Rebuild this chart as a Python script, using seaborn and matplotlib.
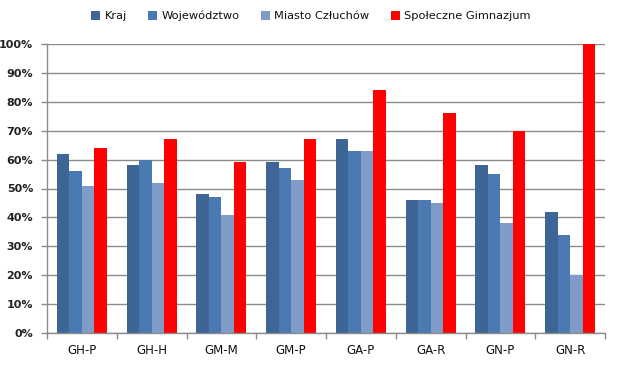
import matplotlib
matplotlib.use("Agg")
import matplotlib.pyplot as plt
import seaborn as sns
import pandas as pd
import numpy as np
from matplotlib.ticker import FuncFormatter, MultipleLocator, FixedLocator

categories = ["GH-P", "GH-H", "GM-M", "GM-P", "GA-P", "GA-R", "GN-P", "GN-R"]
series_names = ["Kraj", "Województwo", "Miasto Człuchów", "Społeczne Gimnazjum"]
kraj = [62, 58, 48, 59, 67, 46, 58, 42]
wojewodztwo = [56, 60, 47, 57, 63, 46, 55, 34]
miasto = [51, 52, 41, 53, 63, 45, 38, 20]
spoleczne = [64, 67, 59, 67, 84, 76, 70, 100]
colors = ["#3D6696", "#4A7AB1", "#7F9CC8", "#FF0000"]

rows = []
for name, vals in zip(series_names, [kraj, wojewodztwo, miasto, spoleczne]):
    for c, v in zip(categories, vals):
        rows.append({"cat": c, "series": name, "value": v})
df = pd.DataFrame(rows)

sns.set_theme(style="white")
plt.rcParams["font.family"] = ["DejaVu Sans"]

fig = plt.figure(figsize=(6.17, 3.65), dpi=100)
ax = fig.add_axes([47/617, 1-333/365, (605-47)/617, (333-44)/365])

sns.barplot(data=df, x="cat", y="value", hue="series", palette=colors,
            width=0.72, gap=0, saturation=1, ax=ax, legend=True,
            linewidth=0, edgecolor="none")

ax.set_ylim(0, 100)
ax.set_xlim(-0.5, len(categories) - 0.5)
ax.yaxis.set_major_locator(MultipleLocator(10))
ax.yaxis.set_major_formatter(FuncFormatter(lambda v, p: f"{int(v)}%"))
ax.grid(axis="y", color="#8C8C8C", linewidth=1)
ax.set_axisbelow(True)
ax.set_xlabel("")
ax.set_ylabel("")
for s in ["top", "right"]:
    ax.spines[s].set_visible(False)
for s in ["left", "bottom"]:
    ax.spines[s].set_color("#8C8C8C")
    ax.spines[s].set_linewidth(1)

ax.tick_params(axis="x", which="major", length=0, pad=8, labelsize=8.5)
ax.xaxis.set_minor_locator(FixedLocator(np.arange(-0.5, len(categories), 1)))
ax.tick_params(axis="x", which="minor", length=4, color="#8C8C8C", width=1, direction="out", bottom=True)
ax.tick_params(axis="y", which="major", length=4, color="#8C8C8C", width=1, direction="out", left=True, labelsize=8, pad=6)
for lab in ax.get_xticklabels():
    lab.set_color("#111111")
for lab in ax.get_yticklabels():
    lab.set_fontweight("bold")
    lab.set_color("#222222")

handles, labels = ax.get_legend_handles_labels()
ax.legend_.remove()
leg = fig.legend(handles, labels, loc="center", bbox_to_anchor=(311/617, 1-16/365), ncol=4,
                 frameon=False, handlelength=0.8, handleheight=0.8, handletextpad=0.35,
                 columnspacing=1.9, prop={"size": 8.2})
for t in leg.get_texts():
    t.set_color("#111111")

fig.savefig("out.png", dpi=100)
